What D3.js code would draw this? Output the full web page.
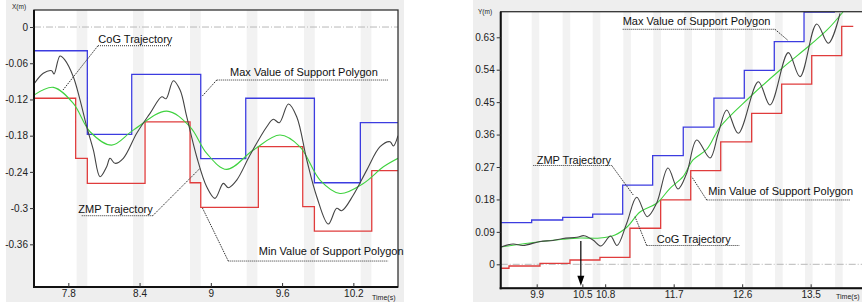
<!DOCTYPE html>
<html><head><meta charset="utf-8">
<script src="https://cdn.jsdelivr.net/npm/d3@7"></script>
<style>
body{margin:0;background:#fff}
svg{display:block;font-family:"Liberation Sans",Arial,sans-serif}
</style>
</head><body>
<svg id="c" width="862" height="306"></svg>
<script>
// ---------------- LEFT PANEL DATA (X direction) ----------------
const leftTickX = [7.8, 8.4, 9, 9.6, 10.2];
const leftTickY = [0, -0.06, -0.12, -0.18, -0.24, -0.3, -0.36];
const leftBands = [7.87, 8.345, 8.825, 9.302, 9.785, 10.262];
const leftBandWidth = 0.09;
const leftMaxT = [7.511, 7.960, 8.334, 8.915, 9.294, 9.872, 10.259, 10.576];
const leftMaxV = [-0.0393, -0.1778, -0.0784, -0.218, -0.118, -0.258, -0.1585, -0.1585];
const leftMinT = [7.511, 7.862, 7.960, 8.446, 8.825, 8.915, 9.400, 9.774, 9.872, 10.355, 10.576];
const leftMinV = [-0.118, -0.2175, -0.259, -0.157, -0.258, -0.2987, -0.1983, -0.2977, -0.338, -0.238, -0.238];
const leftCogT = [7.511, 7.674, 7.842, 7.983, 8.165, 8.347, 8.629, 8.825, 8.966, 9.134, 9.358, 9.583, 9.751, 9.919, 10.088, 10.284, 10.453, 10.576];
const leftCogV = [-0.1127, -0.1, -0.1266, -0.1735, -0.1957, -0.1708, -0.1393, -0.1653, -0.2094, -0.2359, -0.2038, -0.179, -0.1985, -0.2535, -0.2757, -0.2591, -0.2316, -0.2175];
const leftZmpT = [7.511, 7.589, 7.660, 7.680, 7.730, 7.772, 7.842, 7.899, 7.955, 8.011, 8.067, 8.123, 8.151, 8.193, 8.263, 8.376, 8.488, 8.587, 8.623, 8.684, 8.741, 8.797, 8.881, 8.965, 9.035, 9.105, 9.147, 9.218, 9.330, 9.471, 9.526, 9.577, 9.653, 9.723, 9.808, 9.892, 9.989, 10.060, 10.102, 10.200, 10.313, 10.425, 10.509, 10.537, 10.576];
const leftZmpV = [-0.0944, -0.0767, -0.0724, -0.0779, -0.048, -0.0547, -0.0823, -0.121, -0.1652, -0.2038, -0.248, -0.2314, -0.2175, -0.2258, -0.2175, -0.1761, -0.143, -0.1155, -0.1188, -0.089, -0.1044, -0.1486, -0.2149, -0.2646, -0.2838, -0.259, -0.2662, -0.2535, -0.2121, -0.1652, -0.1529, -0.1585, -0.1276, -0.1486, -0.2203, -0.2811, -0.3264, -0.3004, -0.3043, -0.2783, -0.2371, -0.1983, -0.19, -0.1972, -0.18];
const leftNotes = [
  {label: "CoG Trajectory", tx: 8.053, ty: -0.0265, ux1: 8.050, ux2: 8.673, uy: -0.031, from: "start", at: [7.755, -0.1044]},
  {label: "Max Value of Support Polygon", tx: 9.162, ty: -0.0812, ux1: 9.050, ux2: 10.495, uy: -0.0878, from: "start", at: [8.923, -0.1155]},
  {label: "ZMP Trajectory", tx: 7.884, ty: -0.3082, ux1: 7.913, ux2: 8.511, uy: -0.3126, from: "end", at: [8.909, -0.2341]},
  {label: "Min Value of Support Polygon", tx: 9.404, ty: -0.3777, ux1: 9.147, ux2: 10.495, uy: -0.3877, from: "start", at: [8.926, -0.2984]}
];

// ---------------- RIGHT PANEL DATA (Y direction) ----------------
const rightTickX = [9.9, 10.5, 10.8, 11.7, 12.6, 13.5];
const rightTickY = [0, 0.09, 0.18, 0.27, 0.36, 0.45, 0.54, 0.63];
const rightBands = [9.43, 9.834, 10.241, 10.636, 11.038, 11.433, 11.840, 12.244, 12.638, 13.032, 13.426, 13.821];
const rightBandWidth = 0.1;
const rightMaxT = [9.427, 9.834, 10.242, 10.636, 11.030, 11.424, 11.826, 12.229, 12.628, 13.022, 13.413, 13.811, 14.2];
const rightMaxV = [0.1155, 0.123, 0.1305, 0.1395, 0.22, 0.3017, 0.3806, 0.461, 0.538, 0.618, 0.70, 0.78, 0.78];
const rightMinT = [9.427, 9.536, 9.943, 10.337, 10.731, 11.125, 11.529, 11.924, 12.318, 12.725, 13.119, 13.514, 13.908, 14.060];
const rightMinV = [-0.011, -0.0047, 0.0028, 0.012, 0.0194, 0.1, 0.1786, 0.26, 0.34, 0.419, 0.5, 0.579, 0.66, 0.66];
const rightCogT = [9.431, 9.812, 10.246, 10.469, 10.732, 10.929, 11.087, 11.257, 11.481, 11.652, 11.823, 11.954, 12.138, 12.309, 12.703, 13.098, 13.492, 13.716, 13.925];
const rightCogV = [0.048, 0.0591, 0.0694, 0.073, 0.073, 0.0813, 0.1035, 0.1452, 0.1701, 0.2109, 0.2431, 0.2895, 0.32, 0.381, 0.4643, 0.5393, 0.6086, 0.6503, 0.7002];
const rightZmpT = [9.431, 9.589, 9.720, 9.944, 10.114, 10.246, 10.430, 10.522, 10.640, 10.745, 10.870, 10.955, 11.083, 11.214, 11.353, 11.477, 11.625, 11.757, 11.871, 12.003, 12.177, 12.286, 12.397, 12.549, 12.812, 12.966, 13.206, 13.360, 13.579, 13.732, 13.886];
const rightZmpV = [0.048, 0.0563, 0.0522, 0.0633, 0.0661, 0.0716, 0.0749, 0.0794, 0.0674, 0.0508, 0.0785, 0.0522, 0.1138, 0.186, 0.1321, 0.1701, 0.2673, 0.209, 0.2526, 0.345, 0.295, 0.3636, 0.4283, 0.3636, 0.5068, 0.4421, 0.5873, 0.5207, 0.6669, 0.6134, 0.6966];
const rightNotes = [
  {label: "Max Value of Support Polygon", tx: 11.030, ty: 0.6642, ux1: 11.030, ux2: 13.031, uy: 0.6522, from: "end", at: [13.206, 0.6206]},
  {label: "ZMP Trajectory", tx: 9.900, ty: 0.2784, ux1: 9.855, ux2: 10.886, uy: 0.2742, from: "end", at: [11.169, 0.1923]},
  {label: "Min Value of Support Polygon", tx: 12.155, ty: 0.1923, ux1: 12.134, ux2: 14.026, uy: 0.1785, from: "start", at: [11.937, 0.2431]},
  {label: "CoG Trajectory", tx: 11.477, ty: 0.0591, ux1: 11.345, ux2: 12.562, uy: 0.0522, from: "start", at: [11.192, 0.1321]}
];
const rightArrow = {t: 10.48, from: 0.0647, to: -0.0594};

// ---------------- DRAWING ----------------
const svg = d3.select("#c");
const zip = (a, b) => a.map((d, i) => [d, b[i]]);

function panel(cfg) {
  const g = svg.append("g");
  g.append("rect").attr("x", cfg.bg[0]).attr("y", cfg.bg[1]).attr("width", cfg.bg[2]).attr("height", cfg.bg[3]).attr("fill", "#eeeeee");
  const x = d3.scaleLinear().domain(cfg.xDom).range([cfg.x0, cfg.x1]);
  const y = d3.scaleLinear().domain(cfg.yDom).range([cfg.y1, cfg.y0]);
  const W = cfg.x1 - cfg.x0, H = cfg.y1 - cfg.y0;
  g.append("clipPath").attr("id", cfg.id).append("rect").attr("x", cfg.x0).attr("y", cfg.y0).attr("width", W).attr("height", H);
  g.append("rect").attr("x", cfg.x0).attr("y", cfg.y0).attr("width", W).attr("height", H).attr("fill", "#fff");
  const p = g.append("g").attr("clip-path", `url(#${cfg.id})`);
  p.selectAll("rect.band").data(cfg.bands).join("rect").attr("class", "band")
    .attr("x", d => x(d)).attr("width", d => x(d + cfg.bandW) - x(d))
    .attr("y", cfg.y0).attr("height", H).attr("fill", "#f2f2f2");
  p.append("line").attr("x1", cfg.x0).attr("x2", cfg.x1).attr("y1", y(0)).attr("y2", y(0))
    .attr("stroke", "#b8b8b8").attr("stroke-width", 1).attr("stroke-dasharray", "7,2,1,2");
  const stepLine = d3.line().x(d => x(d[0])).y(d => y(d[1])).curve(d3.curveStepAfter);
  const smooth = d3.line().x(d => x(d[0])).y(d => y(d[1])).curve(d3.curveCatmullRom.alpha(0.5));
  p.append("path").attr("d", stepLine(zip(cfg.minT, cfg.minV))).attr("fill", "none").attr("stroke", "#e03c3c").attr("stroke-width", 1.3);
  p.append("path").attr("d", stepLine(zip(cfg.maxT, cfg.maxV))).attr("fill", "none").attr("stroke", "#3c3ce0").attr("stroke-width", 1.3);
  p.append("path").attr("d", smooth(zip(cfg.cogT, cfg.cogV))).attr("fill", "none").attr("stroke", "#3fd23f").attr("stroke-width", 1.1);
  p.append("path").attr("d", smooth(zip(cfg.zmpT, cfg.zmpV))).attr("fill", "none").attr("stroke", "#444").attr("stroke-width", 1.1);

  // border
  g.append("rect").attr("x", cfg.x0).attr("y", cfg.y0).attr("width", W).attr("height", H)
    .attr("fill", "none").attr("stroke", "#333").attr("stroke-width", 1.3);
  g.append("line").attr("x1", cfg.x0).attr("x2", cfg.x0).attr("y1", cfg.y0).attr("y2", cfg.y1 + 1).attr("stroke", "#111").attr("stroke-width", 2);
  g.append("line").attr("x1", cfg.x0 - 1).attr("x2", cfg.x1).attr("y1", cfg.y1).attr("y2", cfg.y1).attr("stroke", "#111").attr("stroke-width", 2);

  // axes
  const ya = g.append("g").attr("transform", `translate(${cfg.x0},0)`)
    .call(d3.axisLeft(y).tickValues(cfg.tickY).tickFormat(d => String(d)).tickSizeInner(4).tickSizeOuter(0).tickPadding(2));
  const xa = g.append("g").attr("transform", `translate(0,${cfg.y1})`)
    .call(d3.axisBottom(x).tickValues(cfg.tickX).tickFormat(d => String(d)).tickSizeInner(-4).tickSizeOuter(0).tickPadding(3));
  [ya, xa].forEach(a => {
    a.select(".domain").remove();
    a.selectAll("line").attr("stroke", "#333");
    a.selectAll("text").attr("font-size", 10).attr("fill", "#222").attr("font-family", '"Liberation Sans",Arial,sans-serif');
  });

  g.append("text").attr("x", cfg.yLab[0]).attr("y", cfg.yLab[1]).attr("font-size", 6.5).attr("fill", "#222").text(cfg.yLabel);
  g.append("text").attr("x", cfg.xLab[0]).attr("y", cfg.xLab[1]).attr("font-size", 7).attr("fill", "#222").text("Time(s)");

  // annotations
  cfg.notes.forEach(n => {
    g.append("text").attr("x", x(n.tx)).attr("y", y(n.ty)).attr("font-size", 11).attr("fill", "#111").text(n.label);
    g.append("line").attr("x1", x(n.ux1)).attr("x2", x(n.ux2)).attr("y1", y(n.uy)).attr("y2", y(n.uy))
      .attr("stroke", "#333").attr("stroke-width", 1).attr("stroke-dasharray", "1,1");
    const sx = x(n.from === "start" ? n.ux1 : n.ux2);
    g.append("line").attr("x1", sx).attr("y1", y(n.uy)).attr("x2", x(n.at[0])).attr("y2", y(n.at[1]))
      .attr("stroke", "#333").attr("stroke-width", 1).attr("stroke-dasharray", "1.5,1");
  });

  if (cfg.arrow) {
    const a = cfg.arrow, ax = x(a.t), yEnd = y(a.to);
    g.append("line").attr("x1", ax).attr("x2", ax).attr("y1", y(a.from)).attr("y2", yEnd - 8)
      .attr("stroke", "#000").attr("stroke-width", 1.2);
    g.append("path").attr("d", `M${ax - 3.5},${yEnd - 10}L${ax + 3.5},${yEnd - 10}L${ax},${yEnd}Z`).attr("fill", "#000");
  }
}

panel({
  id: "clipL", bg: [6, 0, 398, 302],
  x0: 34, x1: 398, y0: 10, y1: 287,
  xDom: [7.511, 10.576], yDom: [-0.4307, 0.0282],
  tickX: leftTickX, tickY: leftTickY, bands: leftBands, bandW: leftBandWidth,
  maxT: leftMaxT, maxV: leftMaxV, minT: leftMinT, minV: leftMinV,
  cogT: leftCogT, cogV: leftCogV, zmpT: leftZmpT, zmpV: leftZmpV,
  notes: leftNotes, yLabel: "X(m)", yLab: [12, 9], xLab: [372, 300]
});
panel({
  id: "clipR", bg: [473, 0, 400, 302],
  x0: 500.7, x1: 868, y0: 11.7, y1: 288.3,
  xDom: [9.427, 9.427 + (868 - 500.7) / 76.1], yDom: [-0.0666, 0.701],
  tickX: rightTickX, tickY: rightTickY, bands: rightBands, bandW: rightBandWidth,
  maxT: rightMaxT, maxV: rightMaxV, minT: rightMinT, minV: rightMinV,
  cogT: rightCogT, cogV: rightCogV, zmpT: rightZmpT, zmpV: rightZmpV,
  notes: rightNotes, yLabel: "Y(m)", yLab: [478, 14], xLab: [836, 299],
  arrow: rightArrow
});
</script>
</body></html>
